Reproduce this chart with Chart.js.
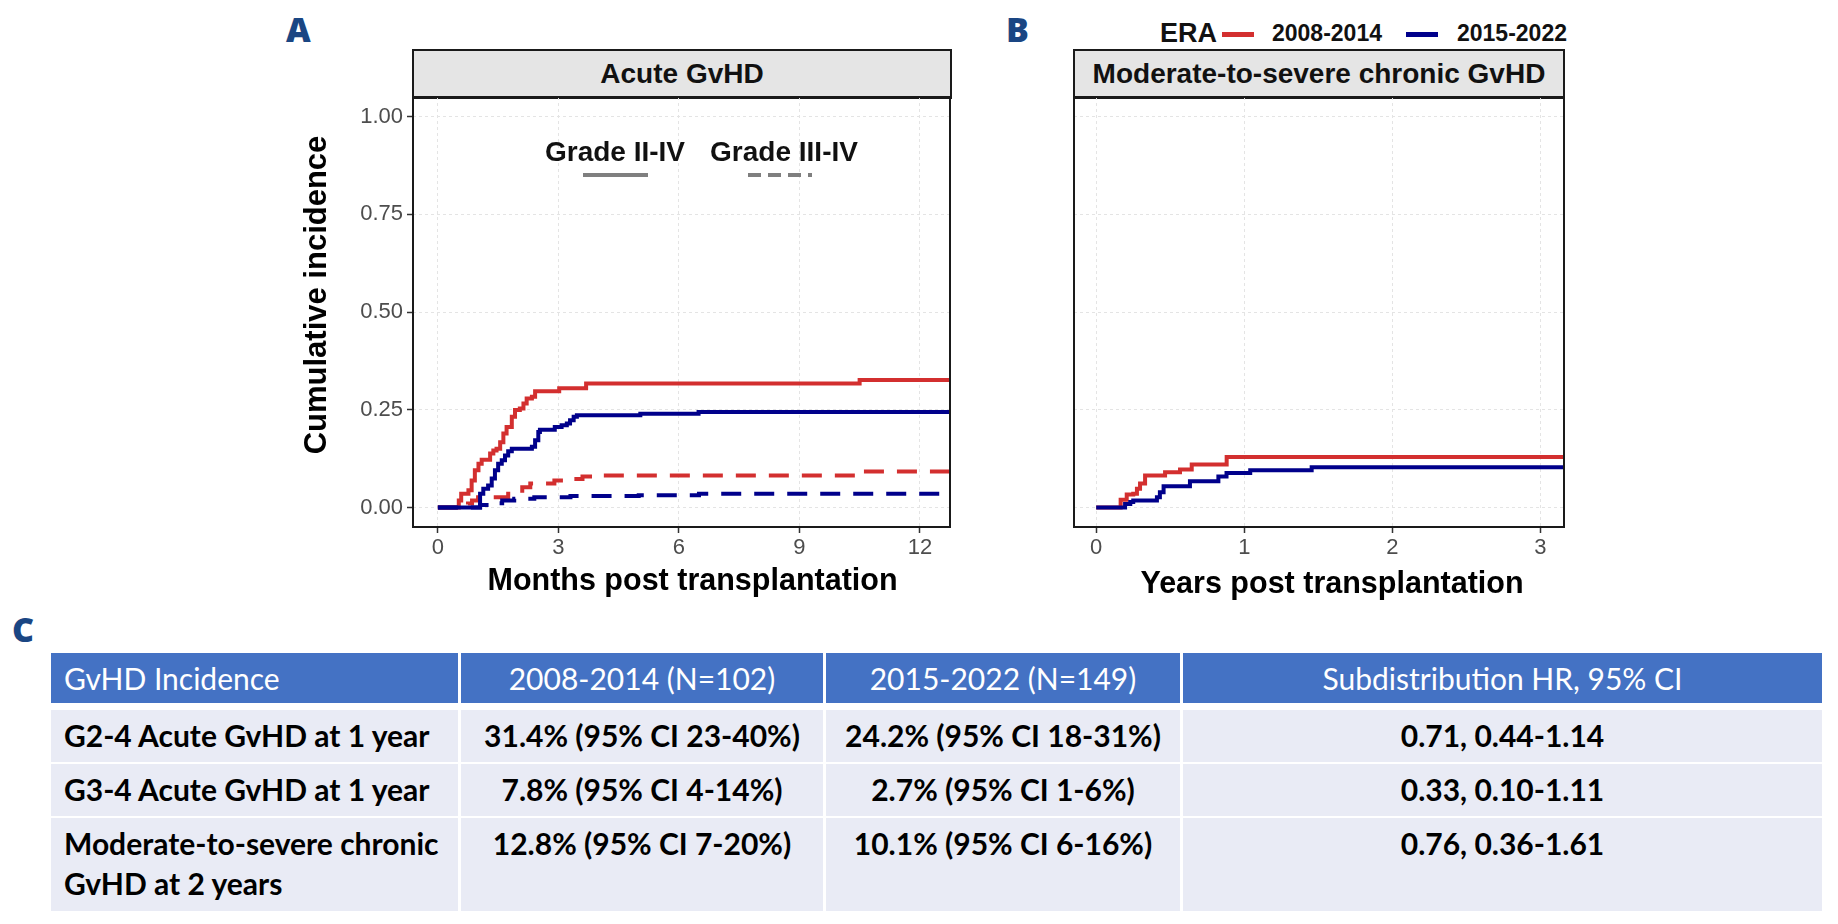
<!DOCTYPE html>
<html>
<head>
<meta charset="utf-8">
<script src="https://cdn.jsdelivr.net/npm/chart.js@4.4.1/dist/chart.umd.min.js"></script>
<style>
html,body{margin:0;padding:0;background:#fff;}
#page{position:relative;width:1838px;height:924px;overflow:hidden;font-family:"Liberation Sans",Arial,sans-serif;background:#fff;}
.abs{position:absolute;white-space:nowrap;line-height:1;}
.letter{font-family:"Open Sans","Liberation Sans",sans-serif;font-weight:800;font-size:34px;color:#1a4683;}
.strip{position:absolute;background:#e5e5e5;border:2px solid #1a1a1a;box-sizing:border-box;font-weight:bold;font-size:28px;color:#111;display:flex;align-items:center;justify-content:center;white-space:nowrap;}
.chartbox{position:absolute;}
.lgtxt{font-weight:bold;color:#111;}
.cell{position:absolute;box-sizing:border-box;font-family:"Lato","Open Sans",sans-serif;white-space:pre-line;}
.hcell{background:#4472c4;color:#fff;font-size:30px;line-height:50px;}
.bcell{background:#e9ebf5;color:#000;font-weight:bold;font-size:30px;line-height:40px;padding-top:5px;}
</style>
</head>
<body>
<div id="page">
  <div class="abs letter" style="left:286px;top:12px;">A</div>
  <div class="abs letter" style="left:1006px;top:12px;">B</div>
  <div class="abs letter" style="left:12px;top:612px;">C</div>

  <div class="strip" style="left:412px;top:49px;width:540px;height:50px;">Acute GvHD</div>
  <div class="strip" style="left:1073px;top:49px;width:492px;height:50px;">Moderate-to-severe chronic GvHD</div>

  <div class="chartbox" style="left:290px;top:95px;width:664px;height:508px;"><canvas id="chartA"></canvas></div>
  <div class="chartbox" style="left:1064px;top:95px;width:504px;height:508px;"><canvas id="chartB"></canvas></div>

  <!-- line type legend inside panel A -->
  <div class="abs lgtxt" id="lgGrade1" style="left:615px;top:138px;font-size:28px;transform:translateX(-50%);"></div>
  <div class="abs" style="left:583px;top:173px;width:65px;height:4px;background:#7f7f7f;"></div>
  <div class="abs lgtxt" id="lgGrade2" style="left:784px;top:138px;font-size:28px;transform:translateX(-50%);"></div>
  <div class="abs" style="left:748px;top:173px;width:64px;height:4px;background:repeating-linear-gradient(90deg,#7f7f7f 0 13px,transparent 13px 20px);"></div>

  <!-- colour legend -->
  <div class="abs lgtxt" id="lgTitle" style="left:1160px;top:20px;font-size:27px;"></div>
  <div class="abs" id="lgSw1" style="left:1222px;top:32px;width:32px;height:5px;"></div>
  <div class="abs lgtxt" id="lgEra1" style="left:1272px;top:22px;font-size:23px;"></div>
  <div class="abs" id="lgSw2" style="left:1406px;top:32px;width:32px;height:5px;"></div>
  <div class="abs lgtxt" id="lgEra2" style="left:1457px;top:22px;font-size:23px;"></div>

  <div id="table"></div>
</div>

<script>
// ---------------- data ----------------
const eraLabels = ['2008-2014', '2015-2022'];
const gradeLabels = ['Grade II-IV', 'Grade III-IV'];
const eraColors = ['#d32f2f', '#00008b'];

const monthTicks = [0, 3, 6, 9, 12];
const yearTicks = [0, 1, 2, 3];
const cifTicks = [0, 0.25, 0.5, 0.75, 1];
const cifTickLabels = ['0.00', '0.25', '0.50', '0.75', '1.00'];

// Panel A: acute GvHD, months post transplantation
const g24Era1Time = [0, 0.52, 0.58, 0.76, 0.84, 0.92, 1.01, 1.09, 1.30, 1.38, 1.46, 1.55, 1.63, 1.71, 1.84, 1.92, 2.04, 2.13, 2.21, 2.34, 2.42, 3.02, 3.69, 10.5, 13];
const g24Era1Cif  = [0, 0.018, 0.035, 0.044, 0.069, 0.095, 0.112, 0.122, 0.138, 0.146, 0.150, 0.167, 0.189, 0.206, 0.232, 0.249, 0.253, 0.266, 0.279, 0.283, 0.297, 0.305, 0.317, 0.326, 0.326];
const g24Era2Time = [0, 1.05, 1.13, 1.25, 1.34, 1.42, 1.50, 1.59, 1.67, 1.75, 1.84, 2.34, 2.42, 2.50, 2.54, 2.91, 3.08, 3.21, 3.29, 3.38, 3.46, 5.04, 6.49, 13];
const g24Era2Cif  = [0, 0.035, 0.048, 0.056, 0.074, 0.095, 0.112, 0.121, 0.133, 0.144, 0.150, 0.155, 0.172, 0.193, 0.199, 0.206, 0.210, 0.215, 0.223, 0.232, 0.236, 0.240, 0.244, 0.244];
const g34Era1Time = [0, 0.75, 0.85, 1.0, 1.75, 2.1, 2.3, 2.9, 3.2, 3.6, 3.9, 10.5, 13];
const g34Era1Cif  = [0, 0.010, 0.018, 0.026, 0.035, 0.052, 0.061, 0.069, 0.073, 0.079, 0.082, 0.092, 0.092];
const g34Era2Time = [0, 1.05, 1.3, 1.6, 1.9, 2.4, 3.3, 5.0, 6.5, 13];
const g34Era2Cif  = [0, 0.006, 0.011, 0.018, 0.022, 0.026, 0.029, 0.031, 0.035, 0.035];

// Panel B: moderate-to-severe chronic GvHD, years post transplantation
const cgEra1Time = [0, 0.165, 0.206, 0.25, 0.275, 0.296, 0.33, 0.465, 0.566, 0.645, 0.881, 3.3];
const cgEra1Cif  = [0, 0.020, 0.033, 0.035, 0.048, 0.061, 0.082, 0.090, 0.097, 0.110, 0.129, 0.129];
const cgEra2Time = [0, 0.195, 0.23, 0.25, 0.41, 0.43, 0.455, 0.633, 0.825, 0.88, 1.04, 1.455, 3.3];
const cgEra2Cif  = [0, 0.009, 0.014, 0.018, 0.026, 0.039, 0.054, 0.067, 0.079, 0.088, 0.095, 0.103, 0.103];

// Panel C: table
const tableHeader = ['GvHD Incidence', '2008-2014 (N=102)', '2015-2022 (N=149)', 'Subdistribution HR, 95% CI'];
const tableRowLabels = ['G2-4 Acute GvHD at 1 year', 'G3-4 Acute GvHD at 1 year', 'Moderate-to-severe chronic\nGvHD at 2 years'];
const tableEra1 = ['31.4% (95% CI 23-40%)', '7.8% (95% CI 4-14%)', '12.8% (95% CI 7-20%)'];
const tableEra2 = ['24.2% (95% CI 18-31%)', '2.7% (95% CI 1-6%)', '10.1% (95% CI 6-16%)'];
const tableHR = ['0.71, 0.44-1.14', '0.33, 0.10-1.11', '0.76, 0.36-1.61'];

// ---------------- legends ----------------
document.getElementById('lgGrade1').textContent = gradeLabels[0];
document.getElementById('lgGrade2').textContent = gradeLabels[1];
document.getElementById('lgTitle').textContent = 'ERA';
document.getElementById('lgEra1').textContent = eraLabels[0];
document.getElementById('lgEra2').textContent = eraLabels[1];
document.getElementById('lgSw1').style.background = eraColors[0];
document.getElementById('lgSw2').style.background = eraColors[1];

// ---------------- table ----------------
(function buildTable(){
  const colX = [[51, 458], [461, 823], [826, 1180], [1183, 1822]];
  const rowY = [[710, 762], [764, 816], [818, 911]];
  const tbl = document.getElementById('table');
  function cell(cls, txt, c, y0, y1, align){
    const d = document.createElement('div');
    d.className = 'cell ' + cls;
    d.style.left = colX[c][0] + 'px';
    d.style.width = (colX[c][1] - colX[c][0]) + 'px';
    d.style.top = y0 + 'px';
    d.style.height = (y1 - y0) + 'px';
    d.style.textAlign = align;
    d.style.paddingLeft = align === 'left' ? '13px' : '0';
    d.textContent = txt;
    tbl.appendChild(d);
  }
  tableHeader.forEach((h, c) => cell('hcell', h, c, 653, 703, c === 0 ? 'left' : 'center'));
  const cols = [tableRowLabels, tableEra1, tableEra2, tableHR];
  rowY.forEach((ry, r) => {
    cols.forEach((col, c) => cell('bcell', col[r], c, ry[0], ry[1], c === 0 ? 'left' : 'center'));
  });
})();

// ---------------- charts ----------------
Chart.defaults.font.family = '"Liberation Sans", Arial, sans-serif';
Chart.defaults.animation = false;

function pts(t, v){ return t.map((x, i) => ({x: x, y: v[i]})); }
function ds(t, v, color, dashed, order){
  return {data: pts(t, v), borderColor: color, borderWidth: 4, pointRadius: 0, stepped: true,
          fill: false, borderDash: dashed ? [20, 13] : [], clip: 0, order: order,
          borderCapStyle: 'butt', borderJoinStyle: 'miter'};
}

// full box round each facet panel
const panelBorder = {
  id: 'panelBorder',
  afterDatasetsDraw(chart){
    const {ctx, chartArea: a} = chart;
    ctx.save();
    ctx.strokeStyle = '#1a1a1a';
    ctx.lineWidth = 2;
    ctx.setLineDash([]);
    ctx.strokeRect(a.left, a.top, a.right - a.left, a.bottom - a.top);
    ctx.restore();
  }
};
// place axis titles as in the original layout (y title centred over strip + panel,
// x title slightly right of the panel centre); the scale extents are restored
// before the datasets are drawn so that clipping stays on the panel.
const titlePlacement = {
  id: 'titlePlacement',
  afterLayout(chart, args, opts){
    const x = chart.scales.x, y = chart.scales.y;
    chart.$savedExtents = {xl: x.left, xr: x.right, yt: y.top};
    if (y.options.title.display && opts.yCentre !== undefined) {
      y.top = 2 * opts.yCentre - y.bottom;
    }
    if (opts.xShift) { x.left += opts.xShift; x.right += opts.xShift; }
  },
  beforeDatasetsDraw(chart){
    const s = chart.$savedExtents;
    if (!s) return;
    chart.scales.x.left = s.xl; chart.scales.x.right = s.xr; chart.scales.y.top = s.yt;
  }
};

const gridCommon = {color: '#e4e4e4', lineWidth: 1, tickLength: 6, tickColor: '#333333', tickWidth: 1.5, tickBorderDash: []};
const tickFont = {size: 22};

function yScale(showLabels, width){
  return {
    type: 'linear', min: -0.05, max: 1.05,
    afterBuildTicks: s => { s.ticks = cifTicks.map(v => ({value: v})); },
    afterFit: s => { s.width = width; s.paddingTop = 0; s.paddingBottom = 0; },
    grid: Object.assign({}, gridCommon, {drawTicks: showLabels}),
    border: {display: false, dash: [3, 3]},
    ticks: {display: showLabels, font: tickFont, color: '#4d4d4d', padding: 4,
            callback: (v, i) => cifTickLabels[i]},
    title: {display: showLabels, text: 'Cumulative incidence', font: {size: 31, weight: 'bold'}, color: '#000',
            padding: {top: 9, bottom: 0}}
  };
}
function xScale(min, max, ticks, title, padBottom){
  return {
    type: 'linear', min: min, max: max,
    afterBuildTicks: s => { s.ticks = ticks.map(v => ({value: v})); },
    afterFit: s => { s.height = 76; s.paddingLeft = 0; s.paddingRight = 0; },
    grid: Object.assign({}, gridCommon),
    border: {display: false, dash: [3, 3]},
    ticks: {font: tickFont, color: '#4d4d4d', padding: 2, maxRotation: 0, autoSkip: false,
            callback: v => String(v)},
    title: {display: true, text: title, font: {size: 30.5, weight: 'bold'}, color: '#000',
            padding: {top: 0, bottom: padBottom}}
  };
}

function opts(scales, placement){
  return {
    responsive: true, maintainAspectRatio: false, animation: false,
    plugins: {legend: {display: false}, tooltip: {enabled: false}, titlePlacement: placement},
    layout: {padding: {top: 2, right: 4, left: 0, bottom: 0}},
    scales: scales
  };
}

new Chart(document.getElementById('chartA'), {
  type: 'line',
  data: {datasets: [
    ds(g34Era2Time, g34Era2Cif, eraColors[1], true, 1),
    ds(g24Era2Time, g24Era2Cif, eraColors[1], false, 2),
    ds(g34Era1Time, g34Era1Cif, eraColors[0], true, 3),
    ds(g24Era1Time, g24Era1Cif, eraColors[0], false, 4)
  ]},
  options: opts({
    x: xScale(-0.62, 12.75, monthTicks, 'Months post transplantation', 3),
    y: yScale(true, 123)
  }, {yCentre: 200, xShift: 11}),
  plugins: [panelBorder, titlePlacement]
});

new Chart(document.getElementById('chartB'), {
  type: 'line',
  data: {datasets: [
    ds(cgEra2Time, cgEra2Cif, eraColors[1], false, 1),
    ds(cgEra1Time, cgEra1Cif, eraColors[0], false, 2)
  ]},
  options: opts({
    x: xScale(-0.15, 3.159, yearTicks, 'Years post transplantation', 0),
    y: yScale(false, 10)
  }, {xShift: 13}),
  plugins: [panelBorder, titlePlacement]
});
</script>
</body>
</html>
